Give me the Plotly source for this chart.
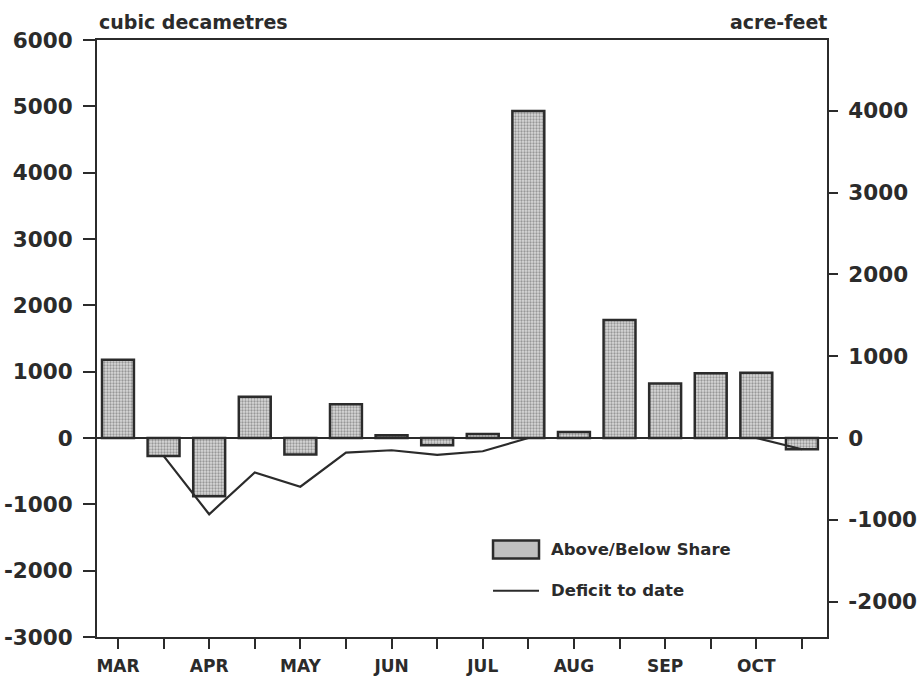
import plotly.graph_objects as go

# Half-month periods, March through October
months = ["MAR", "APR", "MAY", "JUN", "JUL", "AUG", "SEP", "OCT"]
periods = list(range(16))
tick_text = [m if k == 0 else "" for m in months for k in (0, 1)]

# Flow above/below share for each half-month (cubic decametres)
above_below = [1180, -270, -880, 620, -250, 510, 40, -110,
               60, 4930, 90, 1780, 820, 975, 985, -170]

# Running deficit to date (cubic decametres)
deficit = [None, -270, -1150, -520, -735, -220, -185, -255,
           -200, 0, 0, 0, 0, 0, 0, -170]

# Unit conversion for the secondary axis
DAM3_TO_AF = 0.8107
left_range = [-3000, 6000]
right_range = [v * DAM3_TO_AF for v in left_range]
left_ticks = [-3000, -2000, -1000, 0, 1000, 2000, 3000, 4000, 5000, 6000]
right_ticks = [-2000, -1000, 0, 1000, 2000, 3000, 4000]

INK = "#2b2b2b"
FONT = "DejaVu Sans"

fig = go.Figure()

fig.add_trace(go.Bar(
    x=periods, y=above_below, name="Above/Below Share",
    width=0.70,
    marker=dict(
        color="#c4c4c4",
        line=dict(color=INK, width=2.5),
        pattern=dict(shape=".", fgcolor="#555555", bgcolor="#d8d8d8",
                     size=3, solidity=0.45),
    ),
    showlegend=False,
))

fig.add_trace(go.Scatter(
    x=periods, y=deficit, name="Deficit to date",
    mode="lines", line=dict(color=INK, width=2.2),
    connectgaps=False, showlegend=False,
))

# Same values expressed in acre-feet, carried on the right-hand axis
fig.add_trace(go.Scatter(
    x=periods, y=[v * DAM3_TO_AF for v in above_below],
    yaxis="y2", mode="markers", marker=dict(opacity=0),
    hoverinfo="skip", showlegend=False,
))

tick_font = dict(family=FONT, size=21.5, color=INK, weight="bold")

fig.update_layout(
    width=917, height=682,
    margin=dict(l=97, r=90, t=40, b=45),
    paper_bgcolor="white", plot_bgcolor="white",
    xaxis=dict(
        range=[-0.46, 15.55], automargin=False,
        tickmode="array", tickvals=periods, ticktext=tick_text,
        ticks="outside", ticklen=10, tickwidth=2, tickcolor=INK,
        ticklabelstandoff=3,
        tickfont=dict(family=FONT, size=17, color=INK, weight="bold"),
        showline=True, linecolor=INK, linewidth=2, mirror=True,
        showgrid=False, zeroline=False,
    ),
    yaxis=dict(
        range=left_range, automargin=False,
        tickmode="array", tickvals=left_ticks,
        ticktext=[str(v) for v in left_ticks],
        ticks="outside", ticklen=12, tickwidth=2, tickcolor=INK,
        ticklabelstandoff=6,
        tickfont=tick_font,
        showline=True, linecolor=INK, linewidth=2,
        showgrid=False,
        zeroline=True, zerolinecolor=INK, zerolinewidth=2,
    ),
    yaxis2=dict(
        range=right_range, overlaying="y", side="right", automargin=False,
        tickmode="array", tickvals=right_ticks,
        ticktext=[str(v) for v in right_ticks],
        ticks="outside", ticklen=9, tickwidth=2, tickcolor=INK,
        ticklabelstandoff=6,
        tickfont=tick_font,
        showline=True, linecolor=INK, linewidth=2,
        showgrid=False, zeroline=False,
    ),
)

# Axis unit captions
caption_font = dict(family=FONT, size=19, color=INK, weight="bold")
fig.add_annotation(text="cubic decametres", xref="paper", yref="paper",
                   x=0, y=1, xanchor="left", yanchor="bottom", yshift=5,
                   showarrow=False, font=caption_font)
fig.add_annotation(text="acre-feet", xref="paper", yref="paper",
                   x=1, y=1, xanchor="right", yanchor="bottom", yshift=5,
                   xshift=2, showarrow=False, font=caption_font)

# Key
legend_font = dict(family=FONT, size=16.5, color=INK, weight="bold")
fig.add_shape(type="rect", xref="paper", yref="paper",
              x0=0.5425, x1=0.6055, y0=0.1315, y1=0.1615,
              fillcolor="#c0c0c0", line=dict(color=INK, width=2.5))
fig.add_annotation(text="Above/Below Share", xref="paper", yref="paper",
                   x=0.619, y=0.1465, xanchor="left", yanchor="middle",
                   showarrow=False, font=legend_font)
fig.add_shape(type="line", xref="paper", yref="paper",
              x0=0.5425, x1=0.6055, y0=0.0775, y1=0.0775,
              line=dict(color=INK, width=2.2))
fig.add_annotation(text="Deficit to date", xref="paper", yref="paper",
                   x=0.619, y=0.0775, xanchor="left", yanchor="middle",
                   showarrow=False, font=legend_font)

fig.write_html("out.html")
